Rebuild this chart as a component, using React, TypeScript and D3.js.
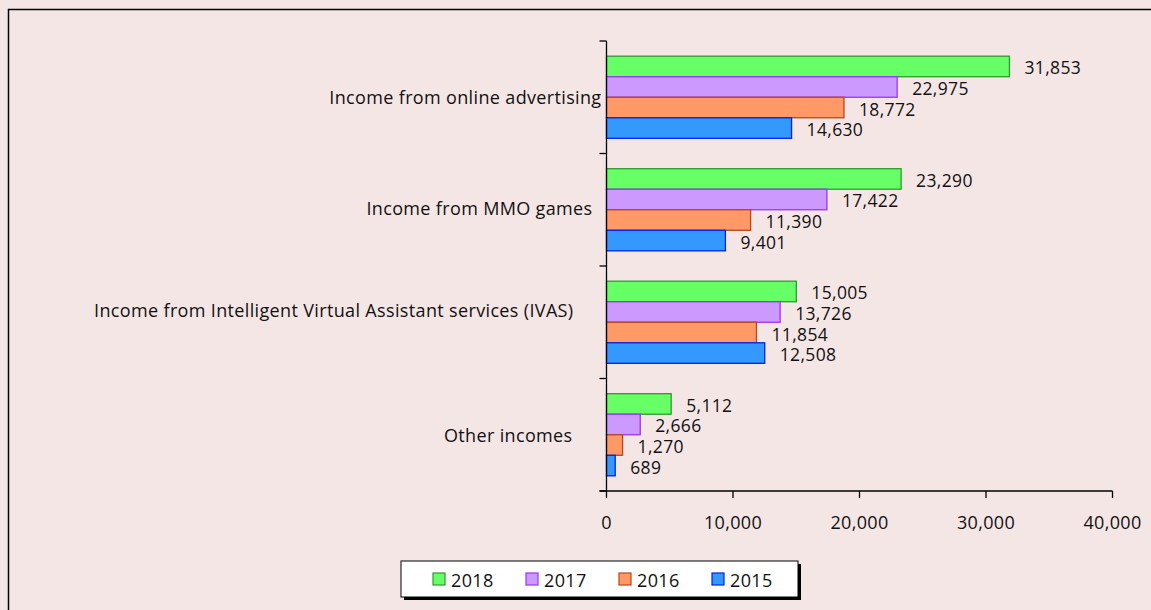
import { useMemo } from 'react'
import * as d3 from 'd3'

const CATEGORIES = [
  'Income from online advertising',
  'Income from MMO games',
  'Income from Intelligent Virtual Assistant services (IVAS)',
  'Other incomes'
]
const YEARS = ['2018', '2017', '2016', '2015']
const VALUES_2018 = [31853, 23290, 15005, 5112]
const VALUES_2017 = [22975, 17422, 13726, 2666]
const VALUES_2016 = [18772, 11390, 11854, 1270]
const VALUES_2015 = [14630, 9401, 12508, 689]
const X_TICKS = [0, 10000, 20000, 30000, 40000]

const SERIES = [VALUES_2018, VALUES_2017, VALUES_2016, VALUES_2015]

const YEAR_COLORS = {
  '2018': { fill: '#66ff66', stroke: '#2f9a2f' },
  '2017': { fill: '#cc99ff', stroke: '#9933ff' },
  '2016': { fill: '#ff9966', stroke: '#b8461a' },
  '2015': { fill: '#3399ff', stroke: '#0022ee' }
}

// Excel places the category labels a bit irregularly; these nudges mimic it
const LABEL_NUDGE = [
  { dx: -5, dy: 0 },
  { dx: -14, dy: -2 },
  { dx: -33, dy: -12 },
  { dx: -34, dy: 0 }
]

const W = 1151
const H = 610
const BG = '#f5e6e6'
const FONT = '"Open Sans", "Noto Sans", sans-serif'
const FS = 18
const LS = 0.35

export default function App() {
  const fmt = d3.format(',')

  const x = useMemo(() => d3.scaleLinear().domain([0, 40000]).range([606.5, 1112.5]), [])
  const y = useMemo(() => d3.scaleBand().domain(CATEGORIES).range([41, 491]).padding(0), [])
  const yInner = useMemo(
    () => d3.scaleBand().domain(YEARS).range([0, y.bandwidth()]).paddingInner(0).paddingOuter(0.74),
    [y]
  )

  const x0 = x(0)
  const [yTop, yBottom] = y.range()
  const boundaries = CATEGORIES.map(c => y(c)).concat([yBottom])

  return (
    <div style={{ position: 'absolute', left: 0, top: 0 }}>
      <svg width={W} height={H} style={{ display: 'block', fontFamily: FONT, letterSpacing: LS }}>
        <rect x={0} y={0} width={W} height={H} fill={BG} />
        {/* outer chart border, runs off the right and bottom */}
        <rect x={8.5} y={9.5} width={1200} height={700} fill="none" stroke="#000" strokeWidth={1.5} />

        {/* bars */}
        {CATEGORIES.map((cat, ci) => (
          <g key={cat} transform={`translate(0,${y(cat)})`}>
            {YEARS.map((yr, si) => {
              const v = SERIES[si][ci]
              const by = yInner(yr)
              const bh = yInner.bandwidth()
              return (
                <g key={yr}>
                  <rect
                    x={x0}
                    y={by}
                    width={x(v) - x0}
                    height={bh}
                    fill={YEAR_COLORS[yr].fill}
                    stroke={YEAR_COLORS[yr].stroke}
                    strokeWidth={1.3}
                  />
                  <text
                    x={x(v) + 15}
                    y={by + bh / 2 + 1}
                    fontSize={17.5}
                    dominantBaseline="central"
                    fill="#111"
                  >
                    {fmt(v)}
                  </text>
                </g>
              )
            })}
          </g>
        ))}

        {/* y axis */}
        <line x1={x0} x2={x0} y1={yTop} y2={yBottom} stroke="#000" strokeWidth={1.3} />
        {boundaries.map((b, i) => (
          <line key={i} x1={x0 - 7} x2={x0} y1={b} y2={b} stroke="#000" strokeWidth={1.3} />
        ))}
        {CATEGORIES.map((cat, i) => (
          <text
            key={cat}
            x={x0 + LABEL_NUDGE[i].dx}
            y={y(cat) + y.bandwidth() / 2 + LABEL_NUDGE[i].dy}
            textAnchor="end"
            dominantBaseline="central"
            fontSize={FS}
            fill="#111"
          >
            {cat}
          </text>
        ))}

        {/* x axis */}
        <line x1={x0 - 7} x2={x(40000)} y1={yBottom} y2={yBottom} stroke="#000" strokeWidth={1.3} />
        {X_TICKS.map(t => (
          <g key={t}>
            <line x1={x(t)} x2={x(t)} y1={yBottom} y2={yBottom + 7} stroke="#000" strokeWidth={1.3} />
            <text x={x(t)} y={yBottom + 31} textAnchor="middle" dominantBaseline="central" fontSize={FS} fill="#111">
              {fmt(t)}
            </text>
          </g>
        ))}

        {/* legend */}
        <rect x={404} y={564} width={397} height={36} fill="#000" />
        <rect x={401} y={561} width={397} height={36} fill="#fff" stroke="#000" strokeWidth={1} />
        {YEARS.map((yr, i) => {
          const lx = 433 + i * 93
          return (
            <g key={yr}>
              <rect x={lx} y={573} width={12} height={12} fill={YEAR_COLORS[yr].fill} stroke={YEAR_COLORS[yr].stroke} strokeWidth={1.2} />
              <text x={lx + 18} y={579.5} dominantBaseline="central" fontSize={FS} fill="#111">
                {yr}
              </text>
            </g>
          )
        })}
      </svg>
    </div>
  )
}
